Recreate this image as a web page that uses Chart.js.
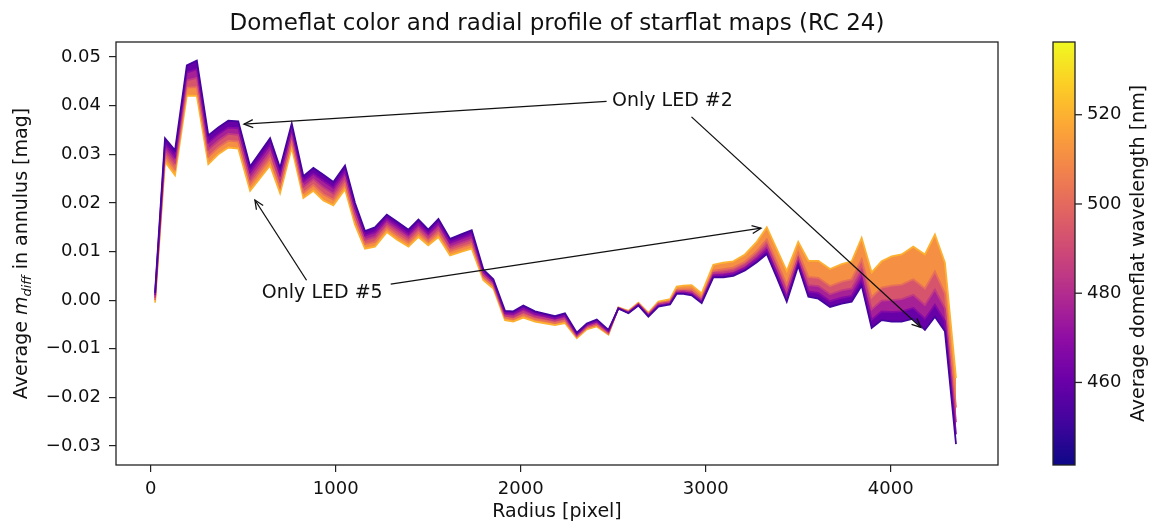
<!DOCTYPE html>
<html>
<head>
<meta charset="utf-8">
<script src="https://cdn.jsdelivr.net/npm/chart.js@4.4.0/dist/chart.umd.min.js"></script>
<style>
    html, body { margin: 0; padding: 0; background: #fff; }
</style>
</head>
<body>
<canvas id="profil" width="1151" height="525"></canvas>
<script>
/********************************* ********************************/
/*********************** Données du graphique **********************/
/******************************** *********************************/

// Rayon de chaque anneau [pixel]
const radius = [23, 77, 131, 195, 249, 311, 365, 419, 473, 537,
    645, 699, 762, 825, 879, 933, 987, 1050, 1104, 1158,
    1212, 1276, 1330, 1393, 1447, 1500, 1555, 1618, 1681, 1735,
    1798, 1852, 1915, 1960, 2014, 2077, 2122, 2185, 2239, 2303,
    2357, 2411, 2474, 2528, 2582, 2636, 2690, 2744, 2807, 2843,
    2879, 2924, 2978, 3041, 3095, 3149, 3212, 3276, 3330, 3384,
    3438, 3500, 3555, 3609, 3672, 3735, 3789, 3843, 3897, 3951,
    4005, 4059, 4122, 4185, 4239, 4293, 4353];

// Profils m_diff moyens, un par longueur d'onde moyenne du domeflat
const profile452 = [0.0015, 0.0333, 0.0308, 0.0483, 0.0493, 0.0339, 0.0355, 0.0369, 0.0368, 0.0275,
    0.0333, 0.0272, 0.0363, 0.0255, 0.0272, 0.0258, 0.0243, 0.0277, 0.0200, 0.0142,
    0.0150, 0.0176, 0.0162, 0.0145, 0.0166, 0.0145, 0.0167, 0.0126, 0.0136, 0.0144,
    0.0063, 0.0043, -0.0022, -0.0023, -0.0011, -0.0023, -0.0027, -0.0033, -0.0027, -0.0067,
    -0.0048, -0.0040, -0.0061, -0.0017, -0.0027, -0.0011, -0.0034, -0.0013, -0.0009, 0.0013,
    0.0013, 0.0010, -0.0006, 0.0047, 0.0047, 0.0050, 0.0061, 0.0078, 0.0095, 0.0047,
    -0.0003, 0.0071, 0.0007, 0.0003, -0.0014, -0.0007, -0.0003, 0.0030, -0.0057, -0.0041,
    -0.0044, -0.0044, -0.0038, -0.0061, -0.0034, -0.0064, -0.0296];
const profile468 = [0.0010, 0.0321, 0.0295, 0.0468, 0.0475, 0.0324, 0.0341, 0.0355, 0.0354, 0.0263,
    0.0319, 0.0259, 0.0351, 0.0244, 0.0260, 0.0245, 0.0231, 0.0265, 0.0189, 0.0133,
    0.0140, 0.0167, 0.0153, 0.0136, 0.0157, 0.0137, 0.0158, 0.0118, 0.0127, 0.0135,
    0.0058, 0.0038, -0.0027, -0.0028, -0.0017, -0.0028, -0.0032, -0.0038, -0.0032, -0.0070,
    -0.0051, -0.0044, -0.0064, -0.0017, -0.0026, -0.0010, -0.0032, -0.0011, -0.0007, 0.0015,
    0.0016, 0.0013, -0.0003, 0.0051, 0.0052, 0.0055, 0.0066, 0.0084, 0.0103, 0.0056,
    0.0006, 0.0078, 0.0018, 0.0015, -0.0002, 0.0005, 0.0009, 0.0045, -0.0040, -0.0023,
    -0.0024, -0.0023, -0.0016, -0.0038, -0.0009, -0.0043, -0.0276];
const profile485 = [0.0005, 0.0309, 0.0283, 0.0452, 0.0457, 0.0310, 0.0328, 0.0342, 0.0340, 0.0250,
    0.0305, 0.0246, 0.0339, 0.0233, 0.0249, 0.0232, 0.0219, 0.0253, 0.0178, 0.0124,
    0.0130, 0.0158, 0.0144, 0.0128, 0.0148, 0.0129, 0.0149, 0.0109, 0.0118, 0.0125,
    0.0052, 0.0034, -0.0032, -0.0034, -0.0024, -0.0034, -0.0037, -0.0042, -0.0037, -0.0073,
    -0.0054, -0.0047, -0.0066, -0.0016, -0.0025, -0.0008, -0.0030, -0.0008, -0.0004, 0.0018,
    0.0019, 0.0017, 0.0001, 0.0056, 0.0057, 0.0060, 0.0072, 0.0092, 0.0113, 0.0066,
    0.0018, 0.0087, 0.0031, 0.0029, 0.0012, 0.0020, 0.0024, 0.0062, -0.0019, -0.0001,
    0.0000, 0.0002, 0.0011, -0.0010, 0.0022, -0.0017, -0.0251];
const profile502 = [0.0000, 0.0297, 0.0270, 0.0437, 0.0438, 0.0295, 0.0314, 0.0328, 0.0326, 0.0238,
    0.0291, 0.0233, 0.0326, 0.0221, 0.0237, 0.0218, 0.0207, 0.0240, 0.0166, 0.0115,
    0.0120, 0.0149, 0.0134, 0.0119, 0.0139, 0.0121, 0.0139, 0.0101, 0.0109, 0.0116,
    0.0047, 0.0029, -0.0036, -0.0039, -0.0030, -0.0039, -0.0042, -0.0047, -0.0042, -0.0075,
    -0.0057, -0.0051, -0.0069, -0.0016, -0.0023, -0.0007, -0.0028, -0.0006, -0.0002, 0.0021,
    0.0022, 0.0022, 0.0005, 0.0061, 0.0064, 0.0067, 0.0079, 0.0101, 0.0125, 0.0079,
    0.0032, 0.0098, 0.0048, 0.0046, 0.0029, 0.0038, 0.0043, 0.0084, 0.0006, 0.0026,
    0.0030, 0.0032, 0.0043, 0.0024, 0.0059, 0.0014, -0.0221];
const profile520 = [-0.0005, 0.0285, 0.0257, 0.0421, 0.0420, 0.0280, 0.0300, 0.0314, 0.0312, 0.0225,
    0.0277, 0.0220, 0.0314, 0.0210, 0.0225, 0.0205, 0.0195, 0.0228, 0.0155, 0.0106,
    0.0110, 0.0140, 0.0125, 0.0110, 0.0130, 0.0113, 0.0130, 0.0092, 0.0100, 0.0106,
    0.0041, 0.0024, -0.0041, -0.0044, -0.0036, -0.0044, -0.0047, -0.0051, -0.0047, -0.0078,
    -0.0060, -0.0054, -0.0071, -0.0015, -0.0022, -0.0005, -0.0026, -0.0003, 0.0002, 0.0028,
    0.0030, 0.0031, 0.0014, 0.0073, 0.0077, 0.0080, 0.0094, 0.0120, 0.0150, 0.0105,
    0.0060, 0.0120, 0.0081, 0.0081, 0.0064, 0.0074, 0.0080, 0.0128, 0.0057, 0.0080,
    0.0090, 0.0094, 0.0110, 0.0094, 0.0135, 0.0077, -0.0160];

// Longueurs d'onde moyennes [nm] des profils ci-dessus
const wavelengths = [452, 468, 485, 502, 520];
const profiles = [profile452, profile468, profile485, profile502, profile520];

// Graduations
const xTicks = [0, 1000, 2000, 3000, 4000];
const yTicks = [-0.03, -0.02, -0.01, 0.00, 0.01, 0.02, 0.03, 0.04, 0.05];
const cbTicks = [460, 480, 500, 520];
const cbRange = [441.5, 536.3];

// Annotations (coordonnées en données)
const annotations = [
    { text: 'Only LED #2', at: [2820, 0.0409],
      arrows: [[[2464, 0.0409], [504, 0.0362]], [[2923, 0.0377], [4163, -0.0056]]] },
    { text: 'Only LED #5', at: [927, 0.0015],
      arrows: [[[842, 0.0041], [563, 0.0206]], [[1297, 0.0033], [3299, 0.0148]]] }
];

const chartTitle = 'Domeflat color and radial profile of starflat maps (RC 24)';

/********************************* ********************************/
/**************************** Functions ***************************/
/******************************** *********************************/

const FONT = "'DejaVu Sans', sans-serif";

// Palette "plasma" de matplotlib
const plasmaStops = ['#0d0887', '#41049d', '#6a00a8', '#8f0da4', '#b12a90', '#cc4778',
    '#e16462', '#f2844b', '#fca636', '#fcce25', '#f0f921'];

function hexToRgb(h) {
    return [parseInt(h.substr(1, 2), 16), parseInt(h.substr(3, 2), 16), parseInt(h.substr(5, 2), 16)];
}

function plasma(t) {
    t = Math.max(0, Math.min(1, t));
    let s = t * 10;
    let i = Math.min(9, Math.floor(s));
    let f = s - i;
    let a = hexToRgb(plasmaStops[i]);
    let b = hexToRgb(plasmaStops[i + 1]);
    let c = a.map((v, k) => Math.round(v + (b[k] - v) * f));
    return 'rgb(' + c.join(',') + ')';
}

function wlToT(wl) {
    return (wl - cbRange[0]) / (cbRange[1] - cbRange[0]);
}

function drawArrow(ctx, x0, y0, x1, y1) {
    ctx.beginPath();
    ctx.moveTo(x0, y0);
    ctx.lineTo(x1, y1);
    ctx.stroke();
    let a = Math.atan2(y1 - y0, x1 - x0);
    let L = 9, W = 4;
    ctx.beginPath();
    ctx.moveTo(x1 - L * Math.cos(a) + W * Math.sin(a), y1 - L * Math.sin(a) - W * Math.cos(a));
    ctx.lineTo(x1, y1);
    ctx.lineTo(x1 - L * Math.cos(a) - W * Math.sin(a), y1 - L * Math.sin(a) + W * Math.cos(a));
    ctx.stroke();
}

// Plugin : titre, cadre, annotations, libellé de l'axe y et barre de couleurs
const decorPlugin = {
    id: 'decor',
    afterDatasetsDraw(chart) {
        const ctx = chart.ctx;
        const xs = chart.scales.x, ys = chart.scales.y;
        ctx.save();
        ctx.strokeStyle = '#111';
        ctx.fillStyle = '#111';
        ctx.lineWidth = 1.3;
        ctx.font = '19px ' + FONT;
        ctx.textAlign = 'center';
        ctx.textBaseline = 'middle';
        annotations.forEach(an => {
            an.arrows.forEach(ar => {
                drawArrow(ctx, xs.getPixelForValue(ar[0][0]), ys.getPixelForValue(ar[0][1]),
                    xs.getPixelForValue(ar[1][0]), ys.getPixelForValue(ar[1][1]));
            });
            ctx.fillText(an.text, xs.getPixelForValue(an.at[0]), ys.getPixelForValue(an.at[1]));
        });
        ctx.restore();
    },
    afterDraw(chart) {
        const ctx = chart.ctx;
        const area = chart.chartArea;
        ctx.save();

        // Titre centré sur la zone du graphique
        ctx.fillStyle = '#111';
        ctx.font = '23px ' + FONT;
        ctx.textAlign = 'center';
        ctx.textBaseline = 'alphabetic';
        ctx.fillText(chartTitle, (area.left + area.right) / 2, 29.5);

        // Cadre du graphique
        ctx.strokeStyle = '#222';
        ctx.lineWidth = 1.3;
        ctx.strokeRect(area.left, area.top, area.right - area.left, area.bottom - area.top);

        // Libellé de l'axe y avec indice
        ctx.translate(21, (area.top + area.bottom) / 2);
        ctx.rotate(-Math.PI / 2);
        const segs = [
            { t: 'Average ', f: '19px ' + FONT, dy: 0 },
            { t: 'm', f: 'italic 19px ' + FONT, dy: 0 },
            { t: 'diff', f: 'italic 13px ' + FONT, dy: 4 },
            { t: ' in annulus [mag]', f: '19px ' + FONT, dy: 0 }
        ];
        let total = 0;
        segs.forEach(s => { ctx.font = s.f; s.w = ctx.measureText(s.t).width; total += s.w; });
        let x = -total / 2;
        ctx.textAlign = 'left';
        segs.forEach(s => { ctx.font = s.f; ctx.fillText(s.t, x, 6 + s.dy); x += s.w; });
        ctx.restore();

        // Barre de couleurs
        const cbLeft = 1053, cbRight = 1075;
        const cbTop = area.top, cbBottom = area.bottom;
        ctx.save();
        let grad = ctx.createLinearGradient(0, cbBottom, 0, cbTop);
        plasmaStops.forEach((c, i) => grad.addColorStop(i / 10, c));
        ctx.fillStyle = grad;
        ctx.fillRect(cbLeft, cbTop, cbRight - cbLeft, cbBottom - cbTop);
        ctx.strokeStyle = '#222';
        ctx.lineWidth = 1.3;
        ctx.strokeRect(cbLeft, cbTop, cbRight - cbLeft, cbBottom - cbTop);
        ctx.fillStyle = '#111';
        ctx.font = '18px ' + FONT;
        ctx.textAlign = 'left';
        ctx.textBaseline = 'middle';
        cbTicks.forEach(v => {
            let y = cbBottom - wlToT(v) * (cbBottom - cbTop);
            ctx.beginPath();
            ctx.moveTo(cbRight, y);
            ctx.lineTo(cbRight + 7, y);
            ctx.stroke();
            ctx.fillText(String(v), cbRight + 12, y);
        });
        ctx.translate(1139, (cbTop + cbBottom) / 2);
        ctx.rotate(-Math.PI / 2);
        ctx.font = '19px ' + FONT;
        ctx.textAlign = 'center';
        ctx.fillText('Average domeflat wavelength [nm]', 0, 0);
        ctx.restore();
    }
};

// Construction des jeux de données : chaque profil remplit jusqu'au précédent
let datasets = profiles.map((prof, k) => {
    let tLine = wlToT(wavelengths[k]);
    let tFill = k > 0 ? (wlToT(wavelengths[k]) + wlToT(wavelengths[k - 1])) / 2 : tLine;
    return {
        label: wavelengths[k] + ' nm',
        data: radius.map((r, i) => ({ x: r, y: prof[i] })),
        borderColor: plasma(tLine),
        backgroundColor: plasma(tFill),
        borderWidth: 1.8,
        pointRadius: 0,
        tension: 0,
        fill: k > 0 ? '-1' : false
    };
});

let canvasProfil = document.getElementById('profil');
let profilCTX = canvasProfil.getContext('2d');

new Chart(profilCTX, {
    type: 'line',
    data: { datasets: datasets },
    options: {
        responsive: false,
        animation: false,
        devicePixelRatio: 1,
        layout: { padding: { left: 0, right: 153, top: 42, bottom: 0 } },
        plugins: {
            legend: { display: false },
            tooltip: { enabled: false },
            title: { display: false }
        },
        scales: {
            x: {
                type: 'linear',
                min: -188,
                max: 4580,
                afterBuildTicks: s => { s.ticks = xTicks.map(v => ({ value: v })); },
                afterFit: s => { s.height = 60; },
                border: { display: false },
                grid: { drawOnChartArea: false, drawTicks: true, tickLength: 7, color: '#222', lineWidth: 1.2 },
                ticks: {
                    color: '#111', padding: 7, maxRotation: 0,
                    font: { family: FONT, size: 18 },
                    callback: v => String(v)
                },
                title: {
                    display: true, text: 'Radius [pixel]', color: '#111',
                    font: { family: FONT, size: 19 }, padding: { top: 0, bottom: 2 }
                }
            },
            y: {
                type: 'linear',
                min: -0.0339,
                max: 0.0531,
                afterBuildTicks: s => { s.ticks = yTicks.map(v => ({ value: v })); },
                afterFit: s => { s.width = 116; },
                border: { display: false },
                grid: { drawOnChartArea: false, drawTicks: true, tickLength: 7, color: '#222', lineWidth: 1.2 },
                ticks: {
                    color: '#111', padding: 8,
                    font: { family: FONT, size: 18 },
                    callback: v => v.toFixed(2).replace('-', '\u2212')
                }
            }
        }
    },
    plugins: [decorPlugin]
});
</script>
</body>
</html>
